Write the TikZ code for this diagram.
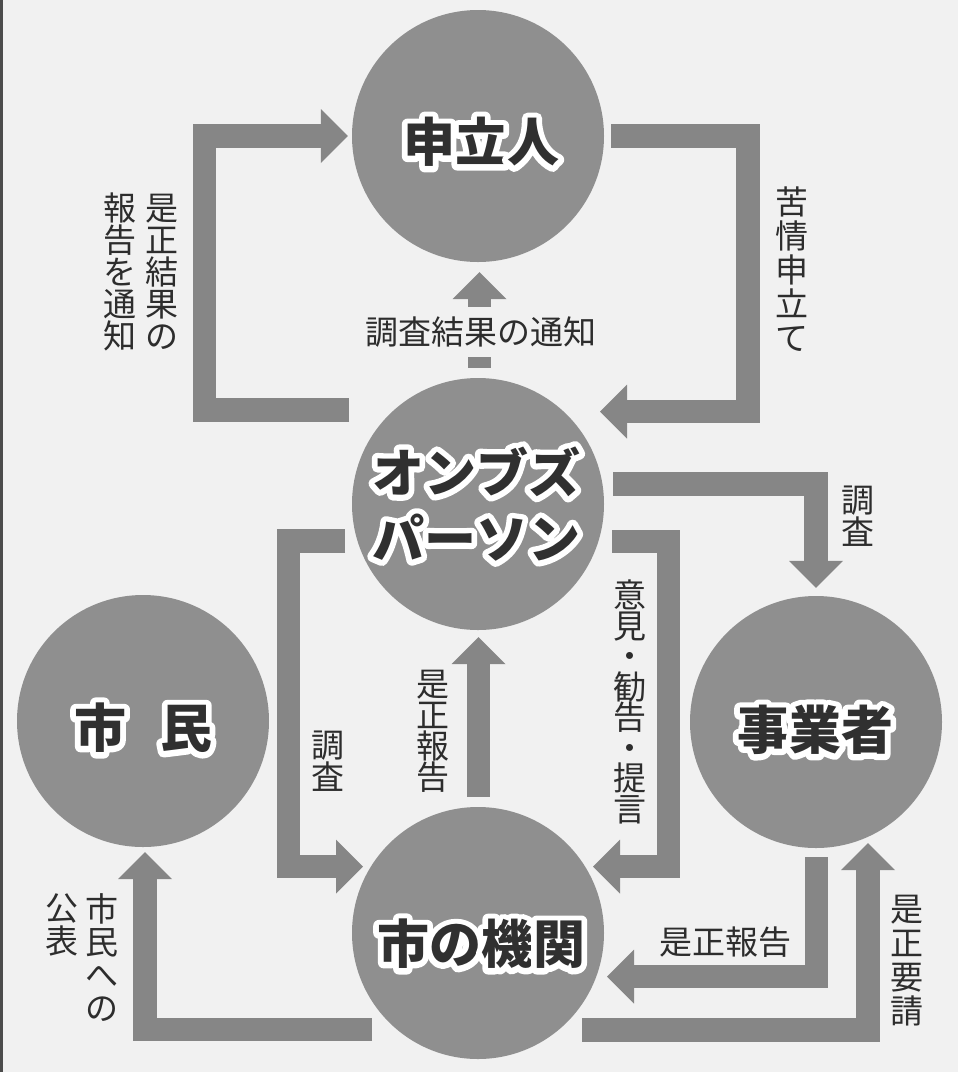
\documentclass[tikz,border=0pt]{standalone}
\usepackage{fontspec}
\newfontfamily\cjk{Noto Sans CJK JP}
\newfontfamily\cjkhalo{Noto Sans CJK JP}[BoldFeatures={FakeBold=22}]
\usetikzlibrary{arrows.meta,calc}
\definecolor{bg}{RGB}{241,241,241}
\definecolor{circc}{RGB}{143,143,143}
\definecolor{bandc}{RGB}{134,134,134}
\definecolor{ink}{RGB}{45,45,45}
\definecolor{cink}{RGB}{48,48,48}
\def\halo#1{\special{pdf:literal direct 1 j}\haloloop#1\relax}
\def\haloloop#1{\ifx#1\relax\else\rlap{\cjkhalo\bfseries\color{white}#1}{\cjk\bfseries\color{cink}#1}\expandafter\haloloop\fi}
\tikzset{
  circnode/.style={circle, fill=circc, minimum size=252pt, inner sep=0pt},
  band/.style={draw=bandc, line width=23.5pt, line join=miter,
    -{Triangle[width=54pt,length=27pt,line width=0pt]}},
  lab/.style={text=ink, font=\cjk\fontsize{33}{34}\selectfont, align=center, inner sep=0pt},
  vlab/.style={text=ink, font=\cjk\fontsize{33}{#1}\selectfont, align=center, inner sep=0pt},
  ctext/.style={font=\fontsize{52}{66}\selectfont, align=center, inner sep=0pt},
}
\begin{document}
\begin{tikzpicture}[x=1pt,y=-1pt]
\fill[bg] (0,0) rectangle (958,1072);
\useasboundingbox (0,0) rectangle (958,1072);
\draw[line width=2.5pt, ink!85] (1.25,0) -- (1.25,1072);

% circles
\node[circnode] (shinin) at (478,136) {};
\node[circnode] (ombud)  at (478,504) {};
\node[circnode] (shimin) at (143,721) {};
\node[circnode] (jigyo)  at (816,722) {};
\node[circnode] (kikan)  at (478,933) {};

% connectors
\draw[band] ($(ombud)+(-129,-94)$) -| ($(shinin)+(-273.5,0)$) -- ($(shinin.west)+(-4,0)$);
\draw[band] ($(shinin.east)+(7,0)$) -| ($(ombud)+(270,-92.5)$) -- ($(ombud)+(122,-92.5)$);
\draw[band] ($(ombud.north)+(1.5,-10)$) -- ($(shinin.south)+(1.5,10)$);
\draw[band] ($(ombud)+(135,-20)$) -| ($(jigyo.north)+(0,-8)$);
\draw[band] ($(ombud)+(134,37.5)$) -| ($(kikan)+(190.5,-66.5)$) -- ($(kikan)+(115,-66.5)$);
\draw[band] ($(ombud)+(-133,37)$) -| ($(kikan)+(-189.5,-66.5)$) -- ($(kikan)+(-115,-66.5)$);
\draw[band] ($(kikan.north)+(0.5,-10)$) -- ($(ombud.south)+(0.5,7)$);
\draw[band] ($(kikan)+(-106,96.5)$) -| ($(shimin.south)+(2,5)$);
\draw[band] ($(jigyo.south)+(0.5,9)$) |- ($(kikan)+(129,43.5)$);
\draw[band] ($(kikan)+(104,97)$) -| ($(jigyo)+(52,121)$);

% circle texts
\node[ctext] (shinin-t) at (481,142) {\halo{申立人}};
\node[ctext] (ombud-t)  at (476,504) {\halo{オンブズ}\\\halo{パーソン}};
\node[ctext] (shimin-t) at (143,728) {\halo{市}\hspace{34pt}\halo{民}};
\node[ctext] (jigyo-t)  at (815,730) {\halo{事業者}};
\node[ctext] (kikan-t)  at (481,944) {\halo{市の機関}};

% labels
\node[lab, fill=bg, inner ysep=10pt, inner xsep=4pt] (l-tsuchi) at (481,332) {調査結果の通知};
\node[vlab=34] (l-kujo) at (792,269) {苦\\情\\申\\立\\て};
\node[vlab=32] (l-zesei1) at (162,272) {是\\正\\結\\果\\の};
\node[vlab=32] (l-zesei2) at (120,272) {報\\告\\を\\通\\知};
\node[vlab=32] (l-chosa1) at (858,516.5) {調\\査};
\node[vlab=30.5] (l-iken) at (630,702) {意\\見\\・\\勧\\告\\・\\提\\言};
\node[vlab=32] (l-chosa2) at (328,761.5) {調\\査};
\node[vlab=31] (l-hokoku1) at (433,731.5) {是\\正\\報\\告};
\node[lab] (l-hokoku2) at (725,942.5) {是正報告};
\node[vlab=34] (l-yosei) at (907,960.5) {是\\正\\要\\請};
\node[vlab=33] (l-kohyo1) at (102,957.5) {市\\民\\へ\\の};
\node[vlab=33] (l-kohyo2) at (62,924.5) {公\\表};
\end{tikzpicture}
\end{document}
